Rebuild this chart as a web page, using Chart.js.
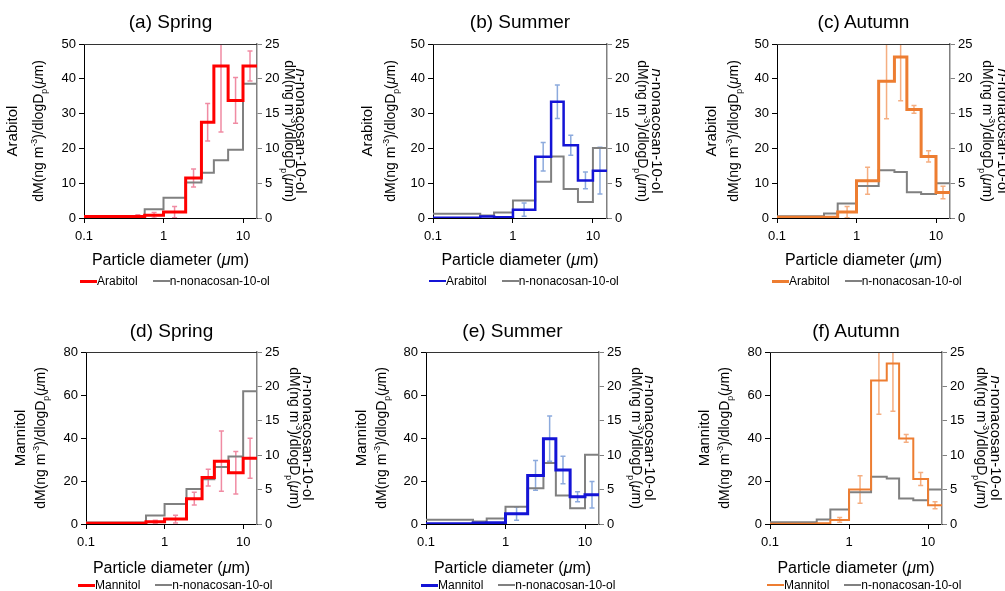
<!DOCTYPE html>
<html>
<head>
<meta charset="utf-8">
<script src="https://cdn.jsdelivr.net/npm/chart.js@4.4.1/dist/chart.umd.min.js"></script>
<style>
  body { margin: 0; background: #fff; font-family: "Liberation Sans", Arial, sans-serif; color: #000; }
  #page { position: relative; width: 1005px; height: 591px; overflow: hidden; background: #fff; }
  .panel { position: absolute; width: 335px; height: 295px; }
  .panel canvas { position: absolute; left: 0; top: 0; }
  .title { position: absolute; font-size: 19px; transform: translate(-50%, -50%); white-space: nowrap; }
  .xtitle { position: absolute; font-size: 16px; transform: translate(-50%, -50%); white-space: nowrap; }
  .ytitle { position: absolute; white-space: nowrap; transform: translate(-50%, -50%) rotate(-90deg); }
  .ytitle.right { transform: translate(-50%, -50%) rotate(90deg); }
  .ytitle.name { font-size: 15px; }
  .ytitle.unit { font-size: 14px; }
  .legend { position: absolute; font-size: 12px; white-space: nowrap; display: flex; align-items: center; transform: translateY(-50%); }
  .legend .swatch { display: inline-block; width: 17px; }
  .legend .gap { display: inline-block; width: 15px; }
  sub, sup { font-size: 0.62em; line-height: 0; }
</style>
</head>
<body>
<div id="page"></div>
<script>
// size bins (um) and axis ticks
const binEdges = [0.1, 0.39, 0.58, 1.0, 1.9, 3.0, 4.3, 6.5, 10, 15];
const xTicks = [0.1, 1, 10];
const arabitolTicks = [0, 10, 20, 30, 40, 50];
const mannitolTicks = [0, 20, 40, 60, 80];
const nonacosanolTicks = [0, 5, 10, 15, 20, 25];

// arabitol dM/dlogDp (ng m-3), with error half-widths
const arabitolSpring = [0.4, 0.4, 0.8, 1.7, 11.5, 27.5, 43.7, 33.8, 43.7];
const arabitolSpringErr = [0, 0.5, 0.8, 1.6, 2.6, 5.4, 19, 6.6, 4.3];
const arabitolSummer = [0.1, 0.4, 0.2, 2.4, 17.6, 33.4, 20.9, 10.8, 13.6];
const arabitolSummerErr = [0, 0, 0, 1.9, 4.1, 4.8, 2.9, 2.4, 6.7];
const arabitolAutumn = [0.2, 0.2, 1.7, 10.7, 39.3, 46.3, 31.2, 17.7, 7.3];
const arabitolAutumnErr = [0, 0, 1.6, 3.9, 10.8, 12.6, 1.1, 1.6, 1.8];

// mannitol
const mannitolSpring = [0.3, 0.3, 1.1, 2.3, 11.8, 21.6, 29.2, 23.8, 30.6];
const mannitolSpringErr = [0, 0, 0.7, 1.8, 3.0, 3.9, 14, 9.9, 9.3];
const mannitolSummer = [0.15, 0.5, 0.6, 4.8, 22.6, 39.7, 25.1, 12.7, 13.6];
const mannitolSummerErr = [0, 0, 0, 3.1, 6.9, 10.5, 6.4, 2.3, 6.2];
const mannitolAutumn = [0.15, 0.3, 1.9, 16.1, 66.8, 74.6, 39.8, 20.9, 8.7];
const mannitolAutumnErr = [0, 0, 1.1, 6.4, 15.8, 22.2, 1.8, 3.0, 1.6];

// n-nonacosan-10-ol (right axis)
const nonacosanolSpring = [0.2, 0.2, 1.25, 2.9, 5.1, 6.5, 8.3, 9.8, 19.3];
const nonacosanolSummer = [0.6, 0.35, 0.8, 2.5, 5.2, 8.85, 4.15, 2.3, 10.05];
const nonacosanolAutumn = [0.25, 0.65, 2.1, 4.6, 6.85, 6.6, 3.7, 3.45, 5.0];

const RED = '#ff0000', BLUE = '#1414d6', ORANGE = '#ed7d31', GRAY = '#808080';

const panels = [
  { label: '(a) Spring', name: 'Arabitol', values: arabitolSpring, errors: arabitolSpringErr, gray: nonacosanolSpring, yTicks: arabitolTicks,
    color: RED, errColor: 'rgba(236,110,140,0.8)', width: 3, col: 0, row: 0, plot: [84, 44, 257, 218], yl: [11, 38], yr: [301, 290], legendX: 80 },
  { label: '(b) Summer', name: 'Arabitol', values: arabitolSummer, errors: arabitolSummerErr, gray: nonacosanolSummer, yTicks: arabitolTicks,
    color: BLUE, errColor: 'rgba(120,155,215,0.85)', width: 2.5, col: 1, row: 0, plot: [98, 44, 272, 218], yl: [31, 55], yr: [322, 308], legendX: 94 },
  { label: '(c) Autumn', name: 'Arabitol', values: arabitolAutumn, errors: arabitolAutumnErr, gray: nonacosanolAutumn, yTicks: arabitolTicks,
    color: ORANGE, errColor: 'rgba(244,165,115,0.9)', width: 3, col: 2, row: 0, plot: [107, 44, 280, 218], yl: [40, 63], yr: [333, 318], legendX: 102 },
  { label: '(d) Spring', name: 'Mannitol', values: mannitolSpring, errors: mannitolSpringErr, gray: nonacosanolSpring, yTicks: mannitolTicks,
    color: RED, errColor: 'rgba(236,110,140,0.8)', width: 3, col: 0, row: 1, plot: [86, 57, 257, 229], yl: [19, 40], yr: [308, 295], legendX: 78 },
  { label: '(e) Summer', name: 'Mannitol', values: mannitolSummer, errors: mannitolSummerErr, gray: nonacosanolSummer, yTicks: mannitolTicks,
    color: BLUE, errColor: 'rgba(120,155,215,0.85)', width: 3, col: 1, row: 1, plot: [91, 57, 264, 229], yl: [25, 46], yr: [315, 302], legendX: 86 },
  { label: '(f) Autumn', name: 'Mannitol', values: mannitolAutumn, errors: mannitolAutumnErr, gray: nonacosanolAutumn, yTicks: mannitolTicks,
    color: ORANGE, errColor: 'rgba(244,165,115,0.9)', width: 2, col: 2, row: 1, plot: [100, 57, 272, 229], yl: [33, 54], yr: [326, 312], legendX: 97 }
];

Chart.defaults.font.family = '"Liberation Sans", Arial, sans-serif';
Chart.defaults.color = '#000';

// error bars at the geometric centre of each size bin, plus the top frame line
const errorBarPlugin = {
  id: 'errbars',
  beforeDatasetsDraw(chart, args, opts) {
    const { ctx, chartArea } = chart;
    const x = chart.scales.x, y = chart.scales.y;
    ctx.save();
    ctx.beginPath();
    ctx.rect(chartArea.left, chartArea.top, chartArea.right - chartArea.left, chartArea.bottom - chartArea.top);
    ctx.clip();
    ctx.strokeStyle = opts.color;
    ctx.lineWidth = 1.5;
    opts.values.forEach((v, i) => {
      const e = opts.errors[i];
      if (!e) return;
      const px = x.getPixelForValue(Math.sqrt(binEdges[i] * binEdges[i + 1]));
      const top = y.getPixelForValue(v + e);
      const bot = y.getPixelForValue(v - e);
      ctx.beginPath();
      ctx.moveTo(px, top); ctx.lineTo(px, bot);
      ctx.moveTo(px - 2.5, top); ctx.lineTo(px + 2.5, top);
      ctx.moveTo(px - 2.5, bot); ctx.lineTo(px + 2.5, bot);
      ctx.stroke();
    });
    ctx.restore();
  },
  afterDraw(chart) {
    const { ctx, chartArea } = chart;
    ctx.save();
    ctx.strokeStyle = '#333';
    ctx.lineWidth = 1;
    ctx.beginPath();
    ctx.moveTo(chartArea.left, Math.round(chartArea.top) + 0.5);
    ctx.lineTo(chartArea.right, Math.round(chartArea.top) + 0.5);
    ctx.stroke();
    ctx.restore();
  }
};

function stepPoints(values) {
  const pts = values.map((v, i) => ({ x: binEdges[i], y: v }));
  pts.push({ x: binEdges[binEdges.length - 1], y: values[values.length - 1] });
  return pts;
}

const unitHtml = 'dM(ng m<sup>-3</sup>)/dlogD<sub>p</sub>(<i>μ</i>m)';
const page = document.getElementById('page');

panels.forEach(p => {
  const W = 335, H = p.row === 0 ? 295 : 296;
  const div = document.createElement('div');
  div.className = 'panel';
  div.style.left = (p.col * 335) + 'px';
  div.style.top = (p.row * 295) + 'px';
  div.style.height = H + 'px';
  page.appendChild(div);

  const canvas = document.createElement('canvas');
  canvas.width = W; canvas.height = H;
  div.appendChild(canvas);

  const [pl, pt, pr, pb] = p.plot;
  const cx = (pl + pr) / 2, cy = (pt + pb) / 2;
  const titleY = p.row === 0 ? 22 : 36;
  const xTitleY = p.row === 0 ? 260 : 273;
  const legendY = p.row === 0 ? 281 : 290;

  div.insertAdjacentHTML('beforeend',
    `<div class="title" style="left:${cx}px;top:${titleY}px">${p.label}</div>` +
    `<div class="xtitle" style="left:${cx}px;top:${xTitleY}px">Particle diameter (<i>μ</i>m)</div>` +
    `<div class="ytitle name" style="left:${p.yl[0]}px;top:${cy}px">${p.name}</div>` +
    `<div class="ytitle unit" style="left:${p.yl[1]}px;top:${cy}px">${unitHtml}</div>` +
    `<div class="ytitle right name" style="left:${p.yr[0]}px;top:${cy}px"><i>n</i>-nonacosan-10-ol</div>` +
    `<div class="ytitle right unit" style="left:${p.yr[1]}px;top:${cy}px">${unitHtml}</div>` +
    `<div class="legend" style="left:${p.legendX}px;top:${legendY}px">` +
      `<span class="swatch" style="height:${p.width}px;background:${p.color}"></span>${p.name}` +
      `<span class="gap"></span>` +
      `<span class="swatch" style="height:2px;background:${GRAY}"></span>n-nonacosan-10-ol</div>`
  );

  const axisW = 40, xH = 30;
  const tickFont = { size: 13 };
  new Chart(canvas, {
    type: 'line',
    data: {
      datasets: [
        { label: p.name, data: stepPoints(p.values), yAxisID: 'y', borderColor: p.color, borderWidth: p.width,
          stepped: true, pointRadius: 0, fill: false, borderJoinStyle: 'miter' },
        { label: 'n-nonacosan-10-ol', data: stepPoints(p.gray), yAxisID: 'y2', borderColor: GRAY, borderWidth: 2,
          stepped: true, pointRadius: 0, fill: false, borderJoinStyle: 'miter' }
      ]
    },
    options: {
      responsive: false,
      animation: false,
      layout: { padding: { left: pl - axisW, top: pt, right: W - pr - axisW, bottom: H - pb - xH } },
      plugins: {
        legend: { display: false },
        tooltip: { enabled: false },
        errbars: { values: p.values, errors: p.errors, color: p.errColor }
      },
      scales: {
        x: {
          type: 'logarithmic', position: 'bottom', min: binEdges[0], max: binEdges[binEdges.length - 1],
          afterBuildTicks: s => { s.ticks = xTicks.map(v => ({ value: v })); },
          afterFit: s => { s.height = xH; },
          ticks: { callback: v => String(v), font: tickFont, color: '#000', padding: 6, maxRotation: 0, autoSkip: false },
          grid: { drawOnChartArea: false, drawTicks: true, tickLength: 5, color: '#000' },
          border: { color: '#000', width: 1 }
        },
        y: {
          position: 'left', min: 0, max: p.yTicks[p.yTicks.length - 1],
          afterBuildTicks: s => { s.ticks = p.yTicks.map(v => ({ value: v })); },
          afterFit: s => { s.width = axisW; },
          ticks: { font: tickFont, color: '#000', padding: 3 },
          grid: { drawOnChartArea: false, drawTicks: true, tickLength: 5, color: '#000' },
          border: { color: '#000', width: 1 }
        },
        y2: {
          position: 'right', min: 0, max: 25,
          afterBuildTicks: s => { s.ticks = nonacosanolTicks.map(v => ({ value: v })); },
          afterFit: s => { s.width = axisW; },
          ticks: { font: tickFont, color: '#000', padding: 3 },
          grid: { drawOnChartArea: false, drawTicks: true, tickLength: 5, color: GRAY },
          border: { color: GRAY, width: 1.5 }
        }
      }
    },
    plugins: [errorBarPlugin]
  });
});
</script>
</body>
</html>
